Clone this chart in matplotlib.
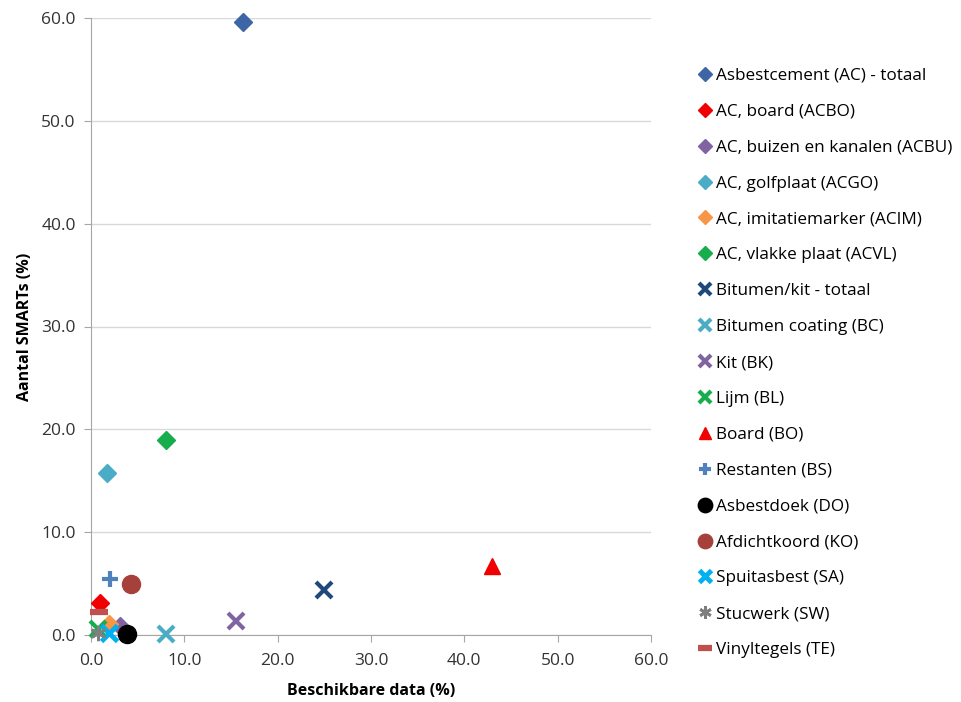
import matplotlib
matplotlib.use("Agg")
import matplotlib.pyplot as plt

plt.rcParams['font.family'] = ['Open Sans', 'DejaVu Sans']

labels = ["Asbestcement (AC) - totaal", "AC, board (ACBO)", "AC, buizen en kanalen (ACBU)",
          "AC, golfplaat (ACGO)", "AC, imitatiemarker (ACIM)", "AC, vlakke plaat (ACVL)",
          "Bitumen/kit - totaal", "Bitumen coating (BC)", "Kit (BK)", "Lijm (BL)",
          "Board (BO)", "Restanten (BS)", "Asbestdoek (DO)", "Afdichtkoord (KO)",
          "Spuitasbest (SA)", "Stucwerk (SW)", "Vinyltegels (TE)"]
x_vals = [16.3, 1.0, 3.1, 1.7, 1.9, 8.0, 25.0, 8.0, 15.5, 0.8, 43.0, 2.0, 3.9, 4.3, 1.9, 0.8, 0.9]
y_vals = [59.6, 3.1, 0.9, 15.8, 1.1, 19.0, 4.4, 0.1, 1.4, 0.6, 6.7, 5.4, 0.1, 5.0, 0.2, 0.2, 2.2]

colors = ["#3E66A6", "#F00000", "#8064A2", "#4BACC6", "#F79646", "#16AD4C",
          "#1F497D", "#4BACC6", "#8064A2", "#16AD4C", "#F00000", "#4F81BD",
          "#000000", "#A5413A", "#00B0F0", "#7F7F7F", "#C0504D"]
markers = ["D", "D", "D", "D", "D", "D", "x", "x", "x", "x", "^", "+", "o", "o", "x", (6, 2, 0), "_"]
sizes = [9, 9, 9, 9, 9, 9, 11, 11, 11, 11, 11, 11, 13, 13, 11, 11, 13]
mews = [1, 1, 1, 1, 1, 1, 3, 3, 3, 3, 1, 3, 1, 1, 3.5, 2, 4.5]

x_ticks = [0, 10, 20, 30, 40, 50, 60]
y_ticks = [0, 10, 20, 30, 40, 50, 60]

fig = plt.figure(figsize=(9.62, 7.02), dpi=100)
ax = fig.add_axes([91/962, 67/702, 560/962, 617/702])

for i in range(len(labels)):
    ax.plot([x_vals[i]], [y_vals[i]], linestyle='none', marker=markers[i], color=colors[i],
            markersize=sizes[i], markeredgewidth=mews[i], label=labels[i], clip_on=False, zorder=3)

ax.set_xlim(0, 60)
ax.set_ylim(0, 60)
ax.set_xticks(x_ticks)
ax.set_yticks(y_ticks)
ax.set_xticklabels([f"{v:.1f}" for v in x_ticks], fontsize=12.5, color="#333333")
ax.set_yticklabels([f"{v:.1f}" for v in y_ticks], fontsize=12.5, color="#333333")
ax.grid(axis='y', color="#D9D9D9", linewidth=1)
ax.set_axisbelow(True)
for s in ['top', 'right']:
    ax.spines[s].set_visible(False)
for s in ['left', 'bottom']:
    ax.spines[s].set_color("#A6A6A6")
ax.tick_params(axis='both', colors="#A6A6A6", length=5, labelcolor="#333333")
ax.tick_params(axis='x', pad=8)
ax.tick_params(axis='y', pad=6)
ax.set_xlabel("Beschikbare data (%)", fontsize=11.5, fontweight='bold', labelpad=10)
ax.set_ylabel("Aantal SMARTs (%)", fontsize=11.5, fontweight='bold', labelpad=6)

leg = ax.legend(loc='upper left', bbox_to_anchor=(690/962, 1 - 61/702), bbox_transform=fig.transFigure,
                frameon=False, fontsize=12.3, labelspacing=1.165, handletextpad=0.1,
                handlelength=1.0, markerscale=0.8, borderaxespad=0)

fig.savefig("out.png", dpi=100)
